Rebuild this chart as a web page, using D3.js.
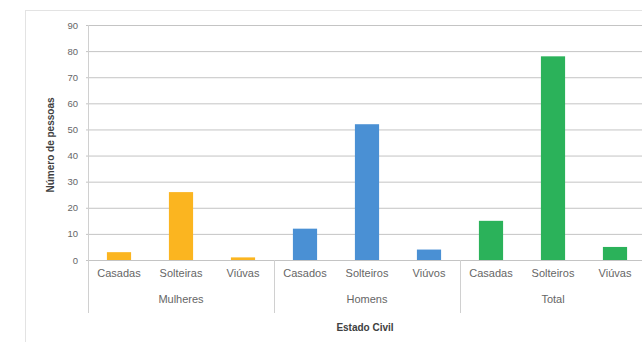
<!DOCTYPE html>
<html>
<meta charset="utf-8">
<head>
<script src="https://d3js.org/d3.v7.min.js"></script>
<style>
  html, body { margin:0; padding:0; background:#fff; }
  svg { display:block; }
</style>
</head>
<body>
<svg class="svg"></svg>
<script>
// data
const groups = ["Mulheres", "Homens", "Total"]
const categories = [
  ["Casadas", "Solteiras", "Viúvas"],
  ["Casados", "Solteiros", "Viúvos"],
  ["Casadas", "Solteiros", "Viúvas"]
]
const values = [
  [3, 26, 1],
  [12, 52, 4],
  [15, 78, 5]
]
const colors = ["#fbb520", "#4a90d4", "#2bb25a"]
const yTicks = [0, 10, 20, 30, 40, 50, 60, 70, 80, 90]

const W = 642, H = 342
const plot = ({left:88, right:646, top:25, bottom:260})

var svg = d3.select("svg").attr("width", W).attr("height", H)

// flat rows for the band scale
const rows = []
groups.forEach((g, gi) => categories[gi].forEach((c, ci) =>
  rows.push({key: gi + "-" + ci, group: g, gi: gi, cat: c, value: values[gi][ci]})))

const xScale = d3.scaleBand()
  .domain(rows.map(d => d.key))
  .range([plot.left, plot.right])
  .paddingInner(0.61).paddingOuter(0.305)

const yScale = d3.scaleLinear().domain([0, 90]).range([plot.bottom, plot.top])

// outer chart border
svg.append("rect")
  .attr("x", 25.5).attr("y", 10.5).attr("width", 700).attr("height", 400)
  .attr("fill", "none").attr("stroke", "#e3e3e3")

// gridlines + y labels
const yAxis = d3.axisLeft(yScale).tickValues(yTicks)
  .tickSize(-(plot.right - plot.left) - 2).tickPadding(8)
svg.append("g")
  .attr("transform", "translate(" + (plot.left - 2) + ",0)")
  .call(yAxis)
  .call(g => g.select(".domain").remove())
  .call(g => g.selectAll(".tick line").attr("stroke", "#c4c4c4"))
  .call(g => g.selectAll(".tick text").attr("fill", "#666")
    .style("font-family", "Liberation Sans").style("font-size", "9.5px"))

// bars
svg.append("g").selectAll("rect")
  .data(rows).enter().append("rect")
  .attr("x", d => xScale(d.key))
  .attr("y", d => yScale(d.value))
  .attr("width", xScale.bandwidth())
  .attr("height", d => yScale(0) - yScale(d.value))
  .attr("fill", d => colors[d.gi])

// axis lines
svg.append("line")
  .attr("x1", plot.left).attr("x2", plot.right)
  .attr("y1", plot.bottom + 0.5).attr("y2", plot.bottom + 0.5)
  .attr("stroke", "#c4c4c4")
const step = xScale.step()
const groupEdges = [0, 3, 6].map(i => plot.left + step * i)
svg.append("g").selectAll("line")
  .data(groupEdges).enter().append("line")
  .attr("x1", d => Math.round(d) + 0.5).attr("x2", d => Math.round(d) + 0.5)
  .attr("y1", (d, i) => i == 0 ? plot.top : plot.bottom).attr("y2", 313)
  .attr("stroke", "#d0d0d0")

// category labels
svg.append("g").selectAll("text")
  .data(rows).enter().append("text")
  .attr("x", d => xScale(d.key) + xScale.bandwidth() / 2)
  .attr("y", 277)
  .attr("text-anchor", "middle")
  .style("font-family", "Liberation Sans").style("font-size", "11px")
  .attr("fill", "#666")
  .text(d => d.cat)

// group labels
svg.append("g").selectAll("text")
  .data(groups).enter().append("text")
  .attr("x", (d, i) => groupEdges[i] + step * 1.5)
  .attr("y", 303)
  .attr("text-anchor", "middle")
  .style("font-family", "Liberation Sans").style("font-size", "11px")
  .attr("fill", "#666")
  .text(d => d)

// axis titles
svg.append("text")
  .attr("x", 365).attr("y", 331)
  .attr("text-anchor", "middle")
  .style("font-family", "Liberation Sans").style("font-size", "10px").style("font-weight", "bold")
  .attr("fill", "#404040")
  .text("Estado Civil")

svg.append("text")
  .attr("transform", "translate(54,145) rotate(-90)")
  .attr("text-anchor", "middle")
  .style("font-family", "Liberation Sans").style("font-size", "10px").style("font-weight", "bold")
  .attr("fill", "#404040")
  .text("Número de pessoas")
</script>
</body>
</html>
